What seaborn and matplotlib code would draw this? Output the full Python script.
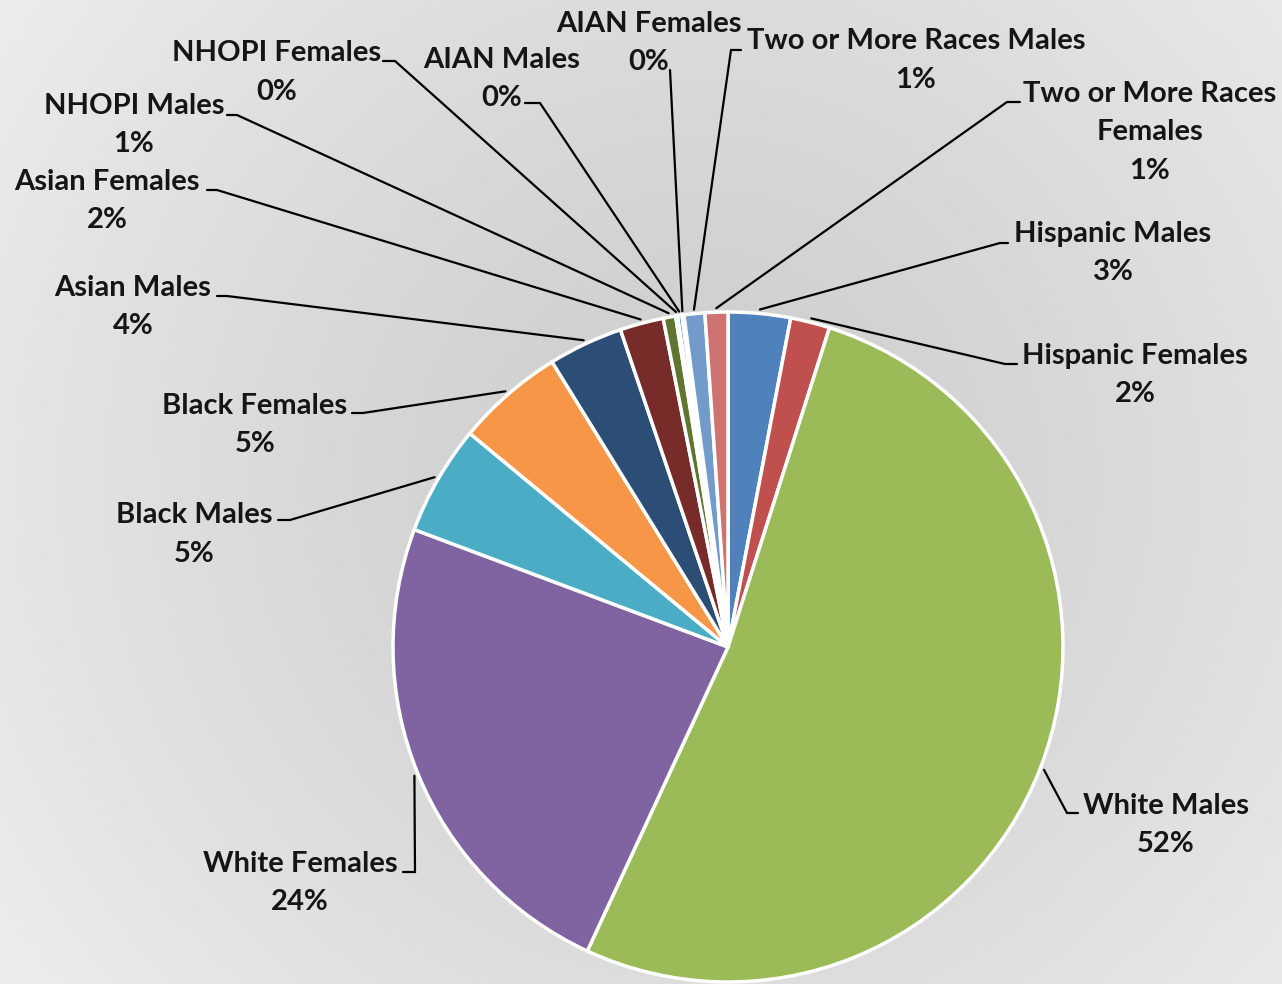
import numpy as np
import matplotlib
matplotlib.use("Agg")
import matplotlib.pyplot as plt
import seaborn as sns

# Share of employees by race/ethnicity and sex (percent)
categories = [
    "Hispanic Males", "Hispanic Females", "White Males", "White Females",
    "Black Males", "Black Females", "Asian Males", "Asian Females",
    "NHOPI Males", "NHOPI Females", "AIAN Males", "AIAN Females",
    "Two or More Races Males", "Two or More Races Females",
]
shares = [3.0, 1.9, 52.0, 23.8, 5.3, 5.2, 3.6, 2.1, 0.6, 0.1, 0.2, 0.1, 1.0, 1.1]
colors = [
    "#4F81BD", "#C0504D", "#9BBB59", "#8064A2", "#4BACC6", "#F79646",
    "#2C4D75", "#772C2A", "#5F7530", "#4D3B62", "#276A7C", "#B65708",
    "#729ACA", "#CD7371",
]
# Lines of text in each data label (category name may wrap)
label_lines = [
    ["Hispanic Males"], ["Hispanic Females"], ["White Males"], ["White Females"],
    ["Black Males"], ["Black Females"], ["Asian Males"], ["Asian Females"],
    ["NHOPI Males"], ["NHOPI Females"], ["AIAN Males"], ["AIAN Females"],
    ["Two or More Races Males"], ["Two or More Races", "Females"],
]

# Canvas in pixel units, y measured downward from the top edge
W, H = 1282, 984
CX, CY, R = 728, 647, 335

# Label layout: text centre x, baseline of first line, leader start, leader elbow
label_layout = [
    (1113, 242, (1008, 243), (1000, 243)),
    (1135, 364, (1017, 364), (1005, 364)),
    (1166, 814, (1078, 813), (1067, 813)),
    (300, 872, (403, 872), (415, 872)),
    (194, 523, (278, 520), (290, 520)),
    (255, 414, (352, 413), (363, 413)),
    (133, 296, (217, 296), (227, 296)),
    (107, 190, (207, 190), (217, 190)),
    (134, 114, (227, 115), (237, 115)),
    (277, 61, (383, 61), (395, 61)),
    (502, 68, (525, 103), (540, 103)),
    (649, 32, (670, 70), (670, 70)),
    (916, 49, (741, 50), (731, 50)),
    (1150, 102, (1020, 102), (1007, 102)),
]
LINE_STEP = 38.5

sns.set_theme(style="white")
plt.rcParams["font.family"] = ["Lato", "DejaVu Sans"]

fig = plt.figure(figsize=(W / 100, H / 100), dpi=100)
ax = fig.add_axes([0, 0, 1, 1])


def Y(py):
    return H - py


# Soft radial background
yy, xx = np.mgrid[0:H, 0:W]
dist = np.hypot(xx - 700, yy - 480) / 860.0
shade = 0.805 + 0.125 * np.clip(dist, 0, 1.2) ** 1.3
bg = np.dstack([shade, shade, shade])
ax.imshow(bg, extent=(0, W, 0, H), origin="upper", zorder=0, interpolation="bilinear")

wedges, _ = ax.pie(
    shares, colors=colors, startangle=90, counterclock=False,
    center=(CX, Y(CY)), radius=R,
    wedgeprops=dict(edgecolor="white", linewidth=2.5),
)
for w in wedges:
    w.set_zorder(2)

for w, lines, share, (tx, ty, start, elbow) in zip(wedges, label_lines, shares, label_layout):
    mid = np.deg2rad((w.theta1 + w.theta2) / 2)
    ex = CX + (R + 4) * np.cos(mid)
    ey = Y(CY) + (R + 4) * np.sin(mid)
    ax.plot([start[0], elbow[0], ex], [Y(start[1]), Y(elbow[1]), ey],
            color="black", lw=1.6, solid_joinstyle="miter", zorder=3)
    all_lines = lines + [f"{share:.0f}%"]
    for i, txt in enumerate(all_lines):
        ax.text(tx, Y(ty + i * LINE_STEP), txt, ha="center", va="baseline",
                fontsize=21, fontweight="bold", color="#151515", zorder=4)

ax.set_xlim(0, W)
ax.set_ylim(0, H)
ax.set_aspect("equal")
ax.axis("off")

fig.savefig("out.png", dpi=100)
